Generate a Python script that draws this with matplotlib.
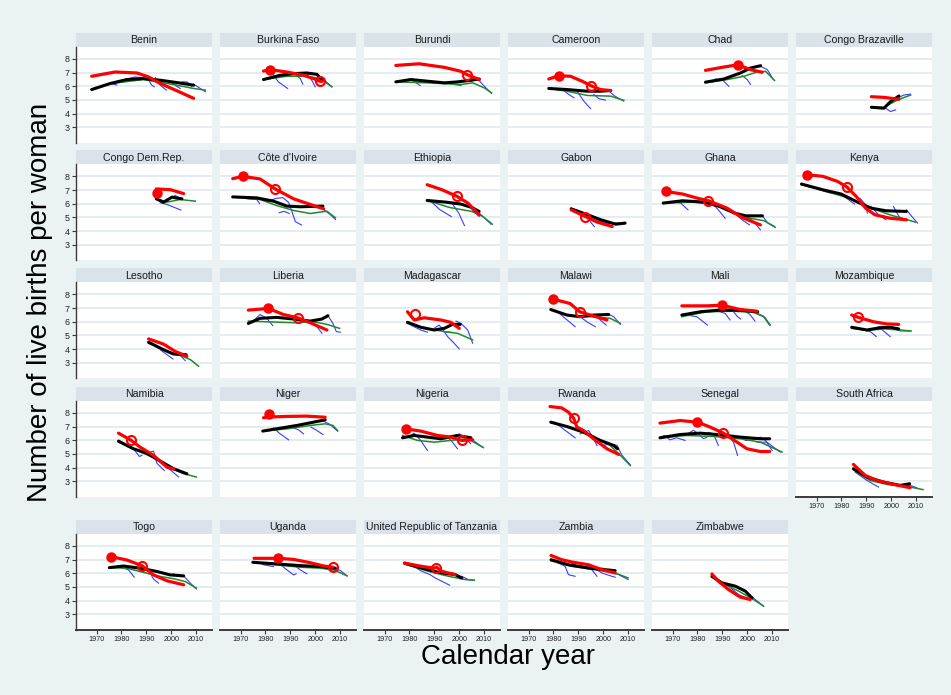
import matplotlib
matplotlib.use('Agg')
import matplotlib.pyplot as plt

plt.rcParams['font.family'] = ['Liberation Sans', 'DejaVu Sans']

COUNTRIES = ["Benin", "Burkina Faso", "Burundi", "Cameroon", "Chad", "Congo Brazaville",
             "Congo Dem.Rep.", "Côte d'Ivoire", "Ethiopia", "Gabon", "Ghana", "Kenya",
             "Lesotho", "Liberia", "Madagascar", "Malawi", "Mali", "Mozambique",
             "Namibia", "Niger", "Nigeria", "Rwanda", "Senegal", "South Africa",
             "Togo", "Uganda", "United Republic of Tanzania", "Zambia", "Zimbabwe"]
YEAR_TICKS = [1970, 1980, 1990, 2000, 2010]
TFR_TICKS = [3, 4, 5, 6, 7, 8]

# red: direct estimates (year, births per woman)
RED = {
    "Benin": [(1968.0, 6.73), (1977.4, 7.04), (1986.2, 6.97), (1990.9, 6.68), (1995.6, 6.2), (2002.3, 5.67), (2009.0, 5.12)],
    "Burkina Faso": [(1979.2, 7.11), (1981.9, 7.21), (1988.6, 7.04), (1995.3, 6.8), (1999.3, 6.56), (2001.8, 6.37), (2002.7, 6.35)],
    "Burundi": [(1974.5, 7.52), (1983.9, 7.64), (1994.0, 7.38), (2000.7, 7.09), (2003.1, 6.85), (2008.1, 6.49)],
    "Cameroon": [(1978.1, 6.53), (1982.1, 6.77), (1986.8, 6.73), (1991.5, 6.37), (1994.9, 6.05), (1998.9, 5.76), (2003.0, 5.69)],
    "Chad": [(1983.2, 7.16), (1989.9, 7.38), (1996.2, 7.57), (2001.3, 7.21), (2006.0, 7.02)],
    "Congo Brazaville": [(1992.0, 5.24), (1997.1, 5.19), (2003.1, 5.05)],
    "Congo Dem.Rep.": [(1994.0, 7.08), (1999.6, 7.03), (2005.0, 6.74)],
    "Côte d'Ivoire": [(1966.8, 7.83), (1970.8, 8.0), (1977.8, 7.81), (1983.9, 7.08), (1991.3, 6.36), (1999.3, 5.87), (2003.4, 5.63)],
    "Ethiopia": [(1987.1, 7.39), (1993.1, 7.02), (1999.1, 6.54), (2003.5, 6.05), (2008.0, 5.2)],
    "Gabon": [(1987.1, 5.56), (1992.8, 5.07), (1997.6, 4.66), (2003.6, 4.34)],
    "Ghana": [(1967.2, 6.9), (1974.0, 6.71), (1979.9, 6.41), (1984.4, 6.22), (1991.9, 5.68), (1997.9, 5.0), (2005.3, 4.46)],
    "Kenya": [(1966.0, 8.12), (1972.5, 8.0), (1978.4, 7.63), (1982.2, 7.22), (1985.9, 6.54), (1989.7, 5.68), (1993.4, 5.2), (1999.4, 4.95), (2006.1, 4.83)],
    "Lesotho": [(1990.9, 4.75), (1996.9, 4.37), (2001.6, 3.84), (2006.3, 3.48)],
    "Liberia": [(1973.1, 6.85), (1981.2, 6.97), (1987.2, 6.53), (1992.9, 6.29), (1998.0, 5.93), (2004.7, 5.4)],
    "Madagascar": [(1979.2, 6.73), (1981.9, 6.13), (1985.9, 6.29), (1992.6, 6.13), (1996.6, 5.96), (2000.0, 5.52)],
    "Malawi": [(1980.0, 7.64), (1986.7, 7.33), (1990.5, 6.73), (1994.8, 6.49), (2001.5, 6.13)],
    "Mali": [(1973.7, 7.16), (1983.7, 7.16), (1989.8, 7.21), (1997.2, 6.89), (2003.9, 6.77)],
    "Mozambique": [(1984.1, 6.49), (1986.8, 6.32), (1992.9, 6.0), (1998.3, 5.84), (2003.0, 5.81)],
    "Namibia": [(1978.8, 6.52), (1983.9, 5.99), (1987.5, 5.5), (1992.9, 4.89), (1998.3, 4.04), (2001.0, 3.9)],
    "Niger": [(1979.2, 7.64), (1981.9, 7.7), (1988.6, 7.74), (1996.6, 7.76), (2004.0, 7.68)],
    "Nigeria": [(1978.5, 6.83), (1984.5, 6.67), (1991.3, 6.35), (1996.6, 6.23), (2001.0, 5.99), (2005.4, 6.04)],
    "Rwanda": [(1978.6, 8.46), (1983.3, 8.36), (1986.0, 8.05), (1988.1, 7.61), (1989.4, 6.96), (1992.1, 6.71), (1996.1, 6.11), (2001.5, 5.38), (2006.2, 4.97)],
    "Senegal": [(1964.9, 7.25), (1973.0, 7.44), (1980.0, 7.32), (1985.1, 6.96), (1990.2, 6.54), (1994.5, 6.03), (1999.9, 5.38), (2005.3, 5.18), (2009.0, 5.18)],
    "South Africa": [(1984.8, 4.24), (1989.5, 3.44), (1994.2, 3.07), (2000.9, 2.78), (2007.6, 2.54)],
    "Togo": [(1975.7, 7.21), (1982.1, 6.97), (1988.2, 6.56), (1992.9, 5.88), (1998.3, 5.45), (2005.0, 5.16)],
    "Uganda": [(1975.4, 7.09), (1985.2, 7.09), (1991.3, 7.01), (1998.0, 6.77), (2003.4, 6.53), (2007.1, 6.44)],
    "United Republic of Tanzania": [(1978.0, 6.74), (1985.0, 6.5), (1989.7, 6.38), (1991.0, 6.43), (1993.0, 6.14), (1998.4, 5.9)],
    "Zambia": [(1979.0, 7.3), (1983.3, 6.99), (1987.4, 6.82), (1994.1, 6.62), (1999.5, 6.26), (2004.8, 6.02)],
    "Zimbabwe": [(1985.8, 5.95), (1988.4, 5.42), (1992.5, 4.81), (1997.2, 4.26), (2001.2, 4.09)],
}

RED_FILLED = {
    "Burkina Faso": (1981.9, 7.21), "Cameroon": (1982.1, 6.77), "Chad": (1996.2, 7.57),
    "Congo Dem.Rep.": (1994.3, 6.79), "Côte d'Ivoire": (1970.8, 8.0), "Ghana": (1967.2, 6.9),
    "Kenya": (1966.0, 8.12), "Liberia": (1981.2, 6.97), "Malawi": (1980.0, 7.64),
    "Mali": (1989.8, 7.21), "Niger": (1981.6, 7.9), "Nigeria": (1978.5, 6.83),
    "Senegal": (1980.0, 7.32), "Togo": (1975.7, 7.21), "Uganda": (1985.2, 7.09),
}

RED_HOLLOW = {
    "Burkina Faso": (2001.8, 6.37), "Burundi": (2003.1, 6.85), "Cameroon": (1994.9, 6.05),
    "Côte d'Ivoire": (1983.9, 7.08), "Ethiopia": (1999.1, 6.54), "Gabon": (1992.8, 5.07),
    "Ghana": (1984.4, 6.22), "Kenya": (1982.2, 7.22), "Liberia": (1992.9, 6.29),
    "Madagascar": (1982.1, 6.56), "Malawi": (1990.5, 6.73), "Mozambique": (1986.8, 6.32),
    "Namibia": (1983.9, 5.99), "Nigeria": (2001.0, 5.99), "Rwanda": (1988.1, 7.61),
    "Senegal": (1990.2, 6.54), "Togo": (1988.2, 6.56), "Uganda": (2007.1, 6.44),
    "United Republic of Tanzania": (1990.6, 6.36),
}

BLACK = {
    "Benin": [(1968.0, 5.76), (1975.4, 6.2), (1982.1, 6.49), (1988.8, 6.56), (1995.6, 6.44), (2002.3, 6.27), (2009.0, 6.08)],
    "Burkina Faso": [(1979.2, 6.49), (1985.9, 6.8), (1991.3, 6.92), (1996.6, 6.97), (2000.7, 6.87), (2002.7, 6.44)],
    "Burundi": [(1974.5, 6.32), (1980.5, 6.49), (1987.2, 6.37), (1994.0, 6.25), (1999.3, 6.32), (2004.7, 6.44), (2008.1, 6.53)],
    "Cameroon": [(1978.1, 5.84), (1985.5, 5.76), (1993.6, 5.64), (1998.9, 5.64), (2003.0, 5.69)],
    "Chad": [(1983.2, 6.3), (1990.6, 6.53), (1997.3, 6.97), (2001.3, 7.33), (2005.4, 7.5)],
    "Congo Brazaville": [(1992.0, 4.47), (1997.1, 4.4), (1999.7, 4.88), (2003.1, 5.29)],
    "Congo Dem.Rep.": [(1994.0, 6.36), (1996.9, 6.12), (2000.3, 6.48), (2004.3, 6.36)],
    "Côte d'Ivoire": [(1966.8, 6.5), (1976.5, 6.43), (1983.2, 6.19), (1988.6, 5.83), (1994.0, 5.78), (2003.1, 5.83)],
    "Ethiopia": [(1987.1, 6.24), (1994.6, 6.12), (2000.6, 5.98), (2005.1, 5.73), (2008.0, 5.44)],
    "Gabon": [(1987.1, 5.63), (1993.1, 5.24), (1999.1, 4.83), (2005.0, 4.51), (2008.8, 4.59)],
    "Ghana": [(1966.2, 6.05), (1974.0, 6.22), (1982.9, 6.12), (1988.9, 5.8), (1994.9, 5.32), (1999.4, 5.12), (2006.1, 5.12)],
    "Kenya": [(1963.9, 7.44), (1972.5, 7.02), (1979.9, 6.71), (1985.9, 6.17), (1991.9, 5.68), (1997.9, 5.49), (2006.1, 5.44)],
    "Lesotho": [(1990.9, 4.51), (1996.9, 3.96), (2000.9, 3.65), (2006.0, 3.6)],
    "Liberia": [(1973.1, 5.88), (1977.8, 6.25), (1984.5, 6.32), (1991.3, 6.2), (1998.0, 6.05), (2002.7, 6.2), (2005.1, 6.44)],
    "Madagascar": [(1979.2, 5.96), (1984.5, 5.6), (1989.9, 5.4), (1994.0, 5.52), (1997.3, 5.81), (2000.4, 5.81)],
    "Malawi": [(1978.9, 6.89), (1985.4, 6.49), (1990.7, 6.37), (1996.1, 6.49), (2002.2, 6.53)],
    "Mali": [(1973.7, 6.49), (1981.1, 6.73), (1989.1, 6.85), (1997.2, 6.85), (2004.2, 6.73)],
    "Mozambique": [(1984.1, 5.6), (1990.2, 5.4), (1995.6, 5.57), (1999.6, 5.6), (2003.0, 5.48)],
    "Namibia": [(1978.8, 5.94), (1984.8, 5.38), (1990.2, 5.06), (1995.6, 4.48), (2001.0, 3.92), (2006.3, 3.56)],
    "Niger": [(1978.9, 6.67), (1985.9, 6.88), (1992.6, 7.08), (1999.3, 7.32), (2004.0, 7.49)],
    "Nigeria": [(1977.2, 6.18), (1981.9, 6.35), (1987.2, 6.23), (1992.6, 6.11), (1999.3, 6.35), (2004.7, 6.18)],
    "Rwanda": [(1978.9, 7.32), (1985.4, 7.0), (1992.1, 6.59), (1998.8, 5.99), (2004.2, 5.62), (2005.8, 5.38)],
    "Senegal": [(1964.9, 6.18), (1973.0, 6.42), (1981.1, 6.52), (1989.1, 6.4), (1997.2, 6.23), (2005.3, 6.11), (2009.0, 6.11)],
    "South Africa": [(1984.8, 3.92), (1990.2, 3.32), (1996.9, 2.95), (2003.6, 2.71), (2007.4, 2.83)],
    "Togo": [(1975.1, 6.41), (1980.8, 6.53), (1987.5, 6.37), (1994.2, 6.13), (1999.6, 5.88), (2005.0, 5.81)],
    "Uganda": [(1974.9, 6.8), (1984.5, 6.68), (1994.0, 6.56), (2002.0, 6.49), (2008.1, 6.37)],
    "United Republic of Tanzania": [(1978.0, 6.74), (1985.0, 6.38), (1991.7, 6.07), (1998.4, 5.9), (2001.0, 5.66)],
    "Zambia": [(1979.0, 6.99), (1986.0, 6.62), (1994.1, 6.38), (2000.8, 6.26), (2004.8, 6.19)],
    "Zimbabwe": [(1985.8, 5.78), (1989.8, 5.3), (1995.2, 5.06), (1999.2, 4.7), (2001.9, 4.21)],
}

GREEN = {
    "Benin": [(1968.0, 5.76), (1976.0, 6.2), (1988.8, 6.49), (2002.3, 6.08), (2009.0, 5.84), (2013.7, 5.72)],
    "Burkina Faso": [(1979.2, 6.49), (1988.6, 6.73), (1996.6, 6.73), (2002.0, 6.56), (2006.7, 5.96)],
    "Burundi": [(1974.5, 6.32), (1987.2, 6.25), (2000.7, 6.13), (2005.4, 6.25), (2010.1, 5.88), (2013.0, 5.52)],
    "Cameroon": [(1978.1, 5.84), (1985.5, 5.64), (1993.6, 5.33), (2003.0, 5.28), (2008.3, 4.97)],
    "Chad": [(1983.2, 6.25), (1991.9, 6.49), (1998.7, 6.73), (2004.0, 7.04), (2007.4, 7.09), (2011.0, 6.42)],
    "Congo Brazaville": [(1992.0, 4.47), (1997.1, 4.47), (2002.5, 5.0), (2007.8, 5.36)],
    "Congo Dem.Rep.": [(1994.0, 6.36), (1998.3, 6.12), (2003.6, 6.31), (2009.7, 6.19)],
    "Côte d'Ivoire": [(1966.8, 6.5), (1977.8, 6.31), (1984.5, 5.87), (1991.3, 5.51), (1998.0, 5.29), (2004.7, 5.46), (2008.1, 4.98)],
    "Ethiopia": [(1987.1, 6.24), (1996.1, 5.73), (2005.1, 5.44), (2009.5, 5.07), (2013.3, 4.51)],
    "Gabon": [(1987.1, 5.68), (1994.6, 5.07), (2002.0, 4.59), (2008.8, 4.59)],
    "Ghana": [(1966.2, 6.05), (1978.4, 6.12), (1987.4, 5.93), (1993.4, 5.44), (2000.9, 4.95), (2006.8, 4.76), (2011.0, 4.34)],
    "Kenya": [(1963.9, 7.39), (1974.0, 6.9), (1982.9, 6.41), (1991.9, 5.68), (1999.4, 5.2), (2009.8, 4.66)],
    "Lesotho": [(1990.9, 4.44), (1998.3, 3.84), (2003.6, 3.55), (2007.7, 3.24), (2011.0, 2.76)],
    "Liberia": [(1973.1, 6.05), (1980.5, 6.0), (1991.3, 5.93), (1999.3, 6.0), (2004.7, 5.81), (2009.8, 5.52)],
    "Madagascar": [(1979.2, 5.88), (1987.2, 5.52), (1994.0, 5.28), (1999.3, 5.16), (2005.4, 4.68)],
    "Malawi": [(1978.9, 6.89), (1986.7, 6.44), (1994.8, 6.37), (2002.8, 6.25), (2006.9, 5.88)],
    "Mali": [(1973.7, 6.37), (1983.7, 6.73), (1994.5, 6.77), (2002.6, 6.68), (2006.6, 6.37), (2009.0, 5.76)],
    "Mozambique": [(1984.1, 5.52), (1990.2, 5.37), (1996.9, 5.48), (2003.6, 5.4), (2008.0, 5.33)],
    "Namibia": [(1978.8, 5.86), (1986.2, 5.26), (1992.9, 4.72), (1999.6, 4.0), (2005.0, 3.56), (2010.1, 3.32)],
    "Niger": [(1978.9, 6.67), (1988.6, 6.83), (1998.0, 7.08), (2004.0, 7.2), (2007.1, 7.08), (2009.0, 6.71)],
    "Nigeria": [(1977.2, 6.35), (1983.2, 5.99), (1990.0, 5.86), (1996.6, 5.99), (2003.4, 6.11), (2009.4, 5.5)],
    "Rwanda": [(1978.9, 7.32), (1986.7, 6.96), (1994.8, 6.35), (2002.8, 5.62), (2006.9, 4.9), (2010.9, 4.16)],
    "Senegal": [(1964.9, 6.18), (1975.7, 6.35), (1986.4, 6.28), (1997.2, 6.11), (2005.3, 5.86), (2014.0, 5.14)],
    "South Africa": [(1984.8, 3.85), (1991.5, 3.07), (1998.3, 2.78), (2006.3, 2.64), (2012.8, 2.4)],
    "Togo": [(1975.1, 6.41), (1982.1, 6.37), (1987.5, 6.13), (1994.2, 5.81), (2001.0, 5.6), (2005.6, 5.4), (2010.1, 4.92)],
    "Uganda": [(1974.9, 6.8), (1984.5, 6.61), (1994.0, 6.44), (2002.0, 6.37), (2007.4, 6.25), (2012.8, 5.81)],
    "United Republic of Tanzania": [(1978.0, 6.67), (1987.6, 6.14), (1995.7, 5.78), (2002.4, 5.54), (2006.1, 5.49)],
    "Zambia": [(1979.0, 6.91), (1987.4, 6.5), (1996.8, 6.26), (2004.8, 6.02), (2010.0, 5.66)],
    "Zimbabwe": [(1985.8, 5.71), (1991.1, 5.18), (1996.5, 4.7), (2001.9, 4.16), (2006.6, 3.6)],
}

# blue: survey birth-history segments
BLUE = {
    "Benin": [[(1975.4, 6.2), (1978.1, 6.1)],
              [(1982.8, 6.56), (1985.5, 6.68), (1988.2, 6.63)],
              [(1990.5, 6.56), (1992.2, 6.08), (1993.2, 5.96)],
              [(1993.6, 6.63), (1995.6, 6.08), (1998.0, 5.72)],
              [(1999.6, 6.37), (2001.6, 6.08), (2003.6, 5.84)],
              [(2004.3, 6.32), (2006.3, 6.32), (2008.3, 6.0)],
              [(2009.0, 6.15), (2011.7, 5.84), (2013.7, 5.6)]],
    "Burkina Faso": [[(1983.2, 6.8), (1985.2, 6.32), (1988.9, 5.84)],
                     [(1991.3, 6.97), (1994.0, 6.56), (1995.0, 6.15)],
                     [(1996.6, 6.92), (1998.6, 6.44), (2000.0, 5.96)],
                     [(2000.7, 6.87), (2002.7, 6.6), (2006.7, 5.96)]],
    "Burundi": [[(1977.8, 6.44), (1980.5, 6.53), (1984.3, 6.05)],
                [(1998.0, 6.13), (2000.7, 6.05)],
                [(2004.7, 6.37), (2007.4, 6.53), (2010.1, 6.0), (2013.0, 5.48)]],
    "Cameroon": [[(1983.5, 5.76), (1986.2, 5.4), (1988.2, 5.16)],
                 [(1989.5, 5.64), (1992.2, 4.92), (1994.9, 4.37)],
                 [(1996.2, 5.4), (1998.3, 5.09), (2000.9, 4.99)],
                 [(2001.6, 5.76), (2004.3, 5.33), (2008.1, 4.92)]],
    "Chad": [[(1987.2, 6.53), (1989.9, 6.49), (1992.6, 6.0)],
             [(1998.0, 6.78), (2000.0, 6.49), (2001.3, 6.13)],
             [(2005.4, 7.45), (2008.1, 7.21), (2010.5, 6.49)]],
    "Congo Brazaville": [[(1997.1, 4.47), (1999.7, 4.16), (2001.8, 4.28)],
                         [(2003.1, 5.19), (2005.1, 5.36), (2007.8, 5.43)]],
    "Congo Dem.Rep.": [[(1995.6, 6.07), (1998.3, 5.95), (2001.6, 5.71), (2003.9, 5.54)],
                       [(1999.6, 6.43), (2001.6, 6.6), (2004.3, 6.36)]],
    "Côte d'Ivoire": [[(1972.5, 6.36), (1976.5, 6.31), (1977.6, 6.02)],
                      [(1980.5, 6.19), (1984.5, 6.4), (1987.0, 6.45), (1989.3, 6.1), (1990.5, 5.5), (1992.0, 4.7), (1994.5, 4.45)],
                      [(1985.5, 5.35), (1987.5, 5.45), (1989.5, 5.3)],
                      [(2003.4, 5.58), (2006.0, 5.22), (2008.1, 4.86)]],
    "Ethiopia": [[(1988.6, 6.17), (1992.3, 5.56), (1996.8, 5.07)],
                 [(1996.8, 6.12), (1999.8, 5.32), (2002.1, 4.41)],
                 [(2003.6, 5.93), (2005.8, 5.44), (2008.0, 5.07)],
                 [(2007.3, 5.44), (2010.3, 4.95), (2012.8, 4.51)]],
    "Gabon": [[(1990.1, 5.44), (1993.1, 5.07), (1996.4, 4.34)],
              [(1997.6, 4.76), (2001.3, 4.59), (2005.1, 4.54)]],
    "Ghana": [[(1970.2, 6.17), (1973.2, 6.05), (1976.2, 5.56)],
              [(1985.9, 6.05), (1988.9, 5.44), (1991.1, 4.95)],
              [(1994.9, 5.32), (1997.9, 4.83), (2000.9, 4.46)],
              [(2000.9, 4.95), (2003.1, 4.59), (2005.3, 4.1)],
              [(2006.1, 5.12), (2008.3, 4.59), (2011.3, 4.27)]],
    "Kenya": [[(1969.5, 7.15), (1973.2, 6.9), (1975.5, 6.78)],
              [(1979.9, 6.66), (1982.9, 6.29), (1985.2, 5.98)],
              [(1987.4, 6.41), (1989.7, 5.93), (1990.4, 5.32)],
              [(1991.9, 5.8), (1994.9, 5.2), (1997.9, 4.83)],
              [(2000.9, 5.8), (2003.1, 5.07), (2005.3, 4.83)],
              [(2006.1, 5.56), (2008.3, 5.07), (2010.6, 4.59)]],
    "Lesotho": [[(1995.6, 3.96), (1998.3, 3.6), (2000.7, 3.29)],
                [(2001.6, 3.6), (2003.6, 3.55), (2005.6, 3.17)]],
    "Liberia": [[(1973.1, 5.88), (1975.1, 6.05), (1977.8, 6.53), (1980.5, 6.25), (1982.9, 5.72)],
                [(1996.0, 6.0), (1998.0, 5.88), (2000.7, 5.64), (2002.7, 5.16)],
                [(2005.4, 6.37), (2007.1, 5.88), (2008.5, 5.28), (2010.1, 5.24)]],
    "Madagascar": [[(1980.5, 5.76), (1984.5, 5.4), (1987.2, 5.24)],
                   [(1989.9, 5.52), (1991.9, 5.76), (1994.0, 5.28), (1996.6, 5.24)],
                   [(1994.0, 5.28), (1995.3, 4.92), (1997.3, 4.56), (2000.0, 4.03)],
                   [(1998.7, 6.05), (2000.7, 5.88), (2003.4, 5.4), (2005.4, 4.44)]],
    "Malawi": [[(1981.3, 6.77), (1984.7, 6.25), (1988.7, 5.64)],
               [(1990.7, 6.37), (1993.4, 6.0), (1996.8, 5.64)],
               [(1997.5, 6.37), (1999.5, 6.01), (2001.2, 5.76)],
               [(2001.5, 6.61), (2004.2, 6.37), (2006.9, 5.81)]],
    "Mali": [[(1975.7, 6.49), (1979.7, 6.37), (1984.0, 5.76)],
             [(1989.1, 6.73), (1991.1, 6.61), (1993.1, 6.13)],
             [(1994.5, 6.73), (1996.1, 6.37), (1997.4, 6.2)],
             [(1999.1, 6.77), (2001.1, 6.53), (2003.1, 6.05)],
             [(2004.2, 6.61), (2006.9, 6.37), (2009.3, 5.76)]],
    "Mozambique": [[(1988.9, 5.4), (1991.6, 5.28), (1994.0, 4.92)],
                   [(1994.9, 5.64), (1996.9, 5.33), (1999.6, 4.92)],
                   [(2000.3, 5.52), (2003.6, 5.33), (2007.7, 5.33)]],
    "Namibia": [[(1982.1, 5.55), (1984.8, 5.38), (1987.2, 4.82), (1988.2, 4.9)],
                [(1991.5, 5.14), (1992.9, 5.21), (1994.2, 4.33), (1997.2, 3.8)],
                [(1997.6, 4.16), (1999.6, 3.85), (2003.0, 3.32)]],
    "Niger": [[(1983.2, 6.9), (1985.9, 6.47), (1989.3, 6.03)],
              [(1991.3, 6.9), (1993.3, 6.76), (1995.3, 6.47)],
              [(1998.3, 6.96), (2000.7, 6.71), (2003.1, 6.42)],
              [(2003.4, 7.39), (2006.0, 7.15), (2009.0, 6.66)]],
    "Nigeria": [[(1979.2, 6.23), (1981.9, 6.52), (1984.5, 5.99), (1987.2, 5.26)],
                [(1990.0, 6.23), (1995.3, 6.23), (1997.3, 5.86), (1999.3, 5.38)],
                [(1999.9, 6.47), (2001.9, 6.23), (2004.6, 5.75)],
                [(2004.7, 6.11), (2007.4, 5.75), (2009.8, 5.45)]],
    "Rwanda": [[(1980.6, 7.32), (1983.9, 6.83), (1988.7, 6.18)],
               [(1990.7, 6.47), (1994.1, 6.71), (1995.4, 6.35), (1997.5, 5.62)],
               [(2000.1, 5.64), (2002.8, 5.72), (2005.5, 5.64), (2007.5, 4.92), (2010.9, 4.2)]],
    "Senegal": [[(1964.9, 6.23), (1966.9, 6.35), (1968.9, 6.03), (1971.6, 6.18), (1975.0, 5.99)],
                [(1976.3, 6.49), (1978.3, 6.73), (1980.3, 6.49), (1982.3, 6.13), (1983.7, 6.2)],
                [(1984.4, 6.57), (1986.4, 6.47), (1988.4, 5.62)],
                [(1991.8, 6.47), (1994.5, 5.86), (1996.1, 4.9)],
                [(1999.2, 5.99), (2002.6, 6.03), (2005.3, 6.23), (2007.3, 5.99), (2010.0, 5.26)],
                [(2003.9, 5.86), (2007.9, 5.86), (2013.3, 5.14)]],
    "South Africa": [[(1985.5, 3.68), (1990.2, 3.07), (1994.9, 2.59)],
                     [(2003.6, 2.64), (2007.6, 2.71), (2010.3, 2.54)]],
    "Togo": [[(1978.1, 6.49), (1980.8, 6.37), (1982.8, 6.25), (1985.1, 5.72)],
             [(1988.9, 6.37), (1991.6, 6.0), (1992.9, 5.57), (1994.9, 5.28)],
             [(2000.9, 5.96), (2003.6, 5.76), (2005.2, 5.76), (2007.7, 5.28), (2010.1, 4.85)]],
    "Uganda": [[(1977.8, 6.73), (1979.4, 6.61), (1983.2, 6.49)],
               [(1985.9, 6.65), (1988.6, 6.25), (1991.3, 5.88), (1992.3, 5.96)],
               [(1991.3, 6.61), (1994.0, 6.25), (1996.6, 5.96)],
               [(1997.3, 6.85), (2000.7, 6.61), (2004.7, 6.3), (2007.4, 6.13)],
               [(2007.4, 6.37), (2010.1, 6.2), (2012.8, 5.81)]],
    "United Republic of Tanzania": [[(1981.6, 6.5), (1985.0, 6.14), (1988.3, 5.9), (1990.3, 5.66), (1993.0, 5.42), (1996.1, 5.13)],
                                    [(1991.7, 6.0), (1995.0, 5.88), (1997.7, 6.0), (1999.7, 5.76)],
                                    [(2001.0, 5.78), (2003.7, 5.54), (2006.1, 5.49)]],
    "Zambia": [[(1980.7, 6.86), (1984.7, 6.5), (1986.0, 5.9), (1988.7, 5.78)],
               [(1987.4, 6.74), (1990.1, 6.5), (1992.7, 6.67), (1995.4, 6.26), (1997.5, 5.78)],
               [(1994.1, 6.62), (1996.8, 6.33), (1999.5, 6.02), (2003.5, 5.78), (2004.8, 5.71)],
               [(1999.5, 6.38), (2002.2, 6.14), (2006.2, 5.9), (2010.0, 5.54)]],
    "Zimbabwe": [[(1988.4, 5.42), (1992.5, 5.06), (1996.5, 4.45), (2001.2, 4.09)],
                 [(2000.5, 4.45), (2003.2, 4.09), (2006.6, 3.6)]],
}

# layout (pixels)
W, H = 951, 695
COL_LEFT = [76, 220, 364, 508, 652, 796]
ROW_TOP = [32.5, 150, 268, 386.5, 519.5]
PANEL_W = 136
STRIP_H = 14
PLOT_H = 96

BG = '#EAF2F3'
STRIP = '#D9E3E9'
GRID = '#E3ECEF'


def box(x, y, w, h):
    return [x / W, 1 - (y + h) / H, w / W, h / H]


def xy(points):
    return [p[0] for p in points], [p[1] for p in points]


fig = plt.figure(figsize=(W / 100, H / 100), dpi=100)
fig.patch.set_facecolor(BG)

n = len(COUNTRIES)
for i, name in enumerate(COUNTRIES):
    r, c = divmod(i, 6)
    left, top = COL_LEFT[c], ROW_TOP[r]
    has_x = (i + 6 >= n)      # nothing below this panel
    has_y = (c == 0)

    # strip with country name
    sax = fig.add_axes(box(left, top, PANEL_W, STRIP_H))
    sax.set_facecolor(STRIP)
    sax.set_xticks([])
    sax.set_yticks([])
    for s in sax.spines.values():
        s.set_visible(False)
    sax.text(0.5, 0.45, name, ha='center', va='center', fontsize=7.6, color='#1a1a1a',
             transform=sax.transAxes)

    ax = fig.add_axes(box(left, top + STRIP_H, PANEL_W, PLOT_H))
    ax.set_facecolor('white')
    ax.set_xlim(1961.7, 2016.4)
    ax.set_ylim(1.9, 8.9)
    ax.set_yticks(TFR_TICKS)
    ax.set_xticks(YEAR_TICKS)
    ax.yaxis.grid(True, color=GRID, lw=1.4)
    ax.set_axisbelow(True)
    for s in ax.spines.values():
        s.set_visible(False)

    if has_y:
        ax.spines['left'].set_visible(True)
        ax.spines['left'].set_color('#3a3a3a')
        ax.spines['left'].set_linewidth(1.0)
        ax.tick_params(axis='y', length=3, width=0.8, color='#3a3a3a', labelsize=6.4,
                       labelcolor='#222222', pad=1.5)
    else:
        ax.tick_params(axis='y', length=0, labelleft=False)
    if has_x:
        ax.spines['bottom'].set_visible(True)
        ax.spines['bottom'].set_color('#3a3a3a')
        ax.spines['bottom'].set_linewidth(1.4)
        ax.tick_params(axis='x', length=3, width=0.8, color='#3a3a3a', labelsize=5.2,
                       labelcolor='#222222', pad=2)
    else:
        ax.tick_params(axis='x', length=0, labelbottom=False)

    for seg in BLUE.get(name, []):
        bx, by = xy(seg)
        ax.plot(bx, by, color='#3b3bff', lw=0.8, zorder=2)
    gx, gy = xy(GREEN[name])
    ax.plot(gx, gy, color='#1f8a2a', lw=1.1, zorder=3)
    kx, ky = xy(BLACK[name])
    ax.plot(kx, ky, color='black', lw=2.2, solid_capstyle='round', zorder=4)
    rx, ry = xy(RED[name])
    ax.plot(rx, ry, color='#ff0000', lw=2.3, solid_capstyle='round', zorder=5)
    if name in RED_FILLED:
        px, py = RED_FILLED[name]
        ax.plot([px], [py], 'o', color='#ff0000', ms=6.5, zorder=6)
    if name in RED_HOLLOW:
        px, py = RED_HOLLOW[name]
        ax.plot([px], [py], 'o', mfc='none', mec='#ff0000', mew=1.5, ms=6.5, zorder=6)

fig.text(40 / W, 1 - 302 / H, 'Number of live births per woman', rotation=90,
         ha='center', va='center', fontsize=20, color='black')
fig.text(508 / W, 1 - 657 / H, 'Calendar year', ha='center', va='center',
         fontsize=20, color='black')

fig.savefig('out.png', dpi=100, facecolor=BG)
